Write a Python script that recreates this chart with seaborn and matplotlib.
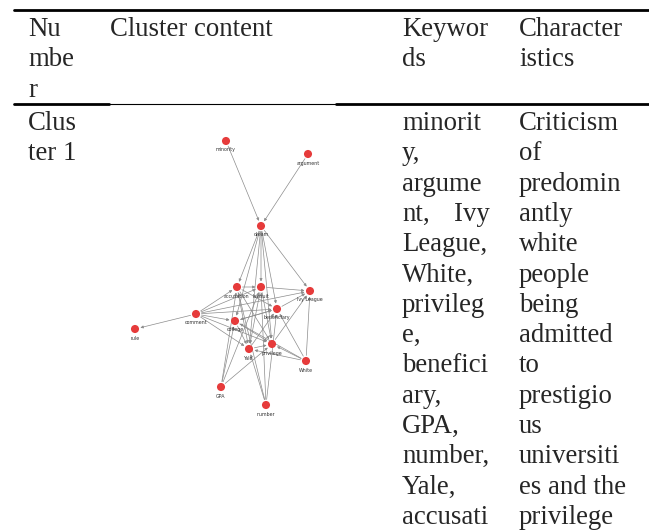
import matplotlib
matplotlib.use("Agg")
import matplotlib.pyplot as plt
import seaborn as sns
import pandas as pd

# ===============================
# 1. Table text
# ===============================
header_number = ["Nu", "mbe", "r"]
header_content = ["Cluster content"]
header_keywords = ["Keywor", "ds"]
header_character = ["Character", "istics"]

row_number = ["Clus", "ter 1"]
row_keywords = ["minorit", "y,", "argume", "nt,|Ivy", "League,", "White,",
                "privileg", "e,", "benefici", "ary,", "GPA,", "number,",
                "Yale,", "accusati"]
row_character = ["Criticism", "of", "predomin", "antly", "white", "people",
                 "being", "admitted", "to", "prestigio", "us", "universiti",
                 "es and the", "privilege"]

# ===============================
# 2. Network (cluster 1)
# ===============================
node_names = ["minority", "argument", "dream", "accusation", "lawsuit",
              "Ivy League", "comment", "rule", "beneficiary", "college",
              "privilege", "Yale", "White", "GPA", "number"]
node_x = [226, 308, 261, 237, 261, 310, 196, 135, 277, 235, 272, 249, 306, 221, 266]
node_y = [141, 154, 226, 287, 287, 291, 314, 329, 309, 321, 344, 349, 361, 387, 405]

edge_src = ["minority", "argument", "dream", "dream", "dream", "dream", "dream",
            "dream", "dream", "comment", "comment", "comment", "comment", "comment",
            "comment", "comment", "comment", "accusation", "lawsuit", "beneficiary",
            "accusation", "lawsuit", "college", "college", "Yale", "GPA", "GPA",
            "GPA", "GPA", "number", "number", "number", "number", "White", "White",
            "White", "White", "White", "accusation", "lawsuit", "college", "Yale",
            "privilege", "beneficiary", "accusation"]
edge_dst = ["dream", "dream", "accusation", "lawsuit", "beneficiary", "college",
            "Yale", "privilege", "Ivy League", "rule", "accusation", "lawsuit",
            "college", "beneficiary", "Yale", "privilege", "Ivy League", "lawsuit",
            "Ivy League", "Ivy League", "beneficiary", "privilege", "beneficiary",
            "privilege", "privilege", "college", "lawsuit", "accusation", "privilege",
            "Yale", "accusation", "lawsuit", "beneficiary", "Ivy League",
            "beneficiary", "privilege", "college", "Yale", "Yale", "Yale", "Yale",
            "beneficiary", "Ivy League", "college", "privilege"]

sns.set_style("white")
plt.rcParams['font.family'] = ['Liberation Serif', 'DejaVu Serif']

fig = plt.figure(figsize=(6.49, 5.30), dpi=100)
ax = fig.add_axes([0, 0, 1, 1])

# rules
ax.plot([14, 649], [10, 10], color="black", lw=2.0)
ax.plot([14, 109], [104, 104], color="black", lw=2.0)
ax.plot([109, 336], [103.5, 103.5], color="black", lw=0.8)
ax.plot([336, 649], [104, 104], color="black", lw=2.0)

fs = 19.3
col_x = [28, 110, 402, 519]

def put_lines(lines, x, y0, step):
    for i, s in enumerate(lines):
        y = y0 + i * step
        if "|" in s:
            a, b = s.split("|")
            ax.text(x, y, a, fontsize=fs, va="baseline", ha="left")
            ax.text(490, y, b, fontsize=fs, va="baseline", ha="right")
        else:
            ax.text(x, y, s, fontsize=fs, va="baseline", ha="left")

put_lines(header_number, col_x[0], 36, 30.5)
put_lines(header_content, col_x[1], 36, 30.5)
put_lines(header_keywords, col_x[2], 36, 30.5)
put_lines(header_character, col_x[3], 36, 30.5)

put_lines(row_number, col_x[0], 130, 30.3)
put_lines(row_keywords, col_x[2], 130, 30.3)
put_lines(row_character, col_x[3], 130, 30.3)

# network
nodes = pd.DataFrame({"name": node_names, "x": node_x, "y": node_y})
pos = {n: (x, y) for n, x, y in zip(node_names, node_x, node_y)}
for s, d in zip(edge_src, edge_dst):
    ax.annotate("", xy=pos[d], xytext=pos[s],
                arrowprops=dict(arrowstyle="-|>", color="#8c8c8c", lw=0.5,
                                mutation_scale=4, shrinkA=4, shrinkB=4))
sns.scatterplot(data=nodes, x="x", y="y", ax=ax, s=34, color="#e63b3b",
                edgecolor="none", zorder=5, legend=False)
for n, x, y in zip(node_names, node_x, node_y):
    ax.text(x, y + 9, n, fontsize=3.4, ha="center", va="center",
            family="DejaVu Sans", color="#333333", zorder=6)

ax.set_xlim(0, 649)
ax.set_ylim(530, 0)
ax.axis("off")

fig.savefig("out.png", dpi=100)
